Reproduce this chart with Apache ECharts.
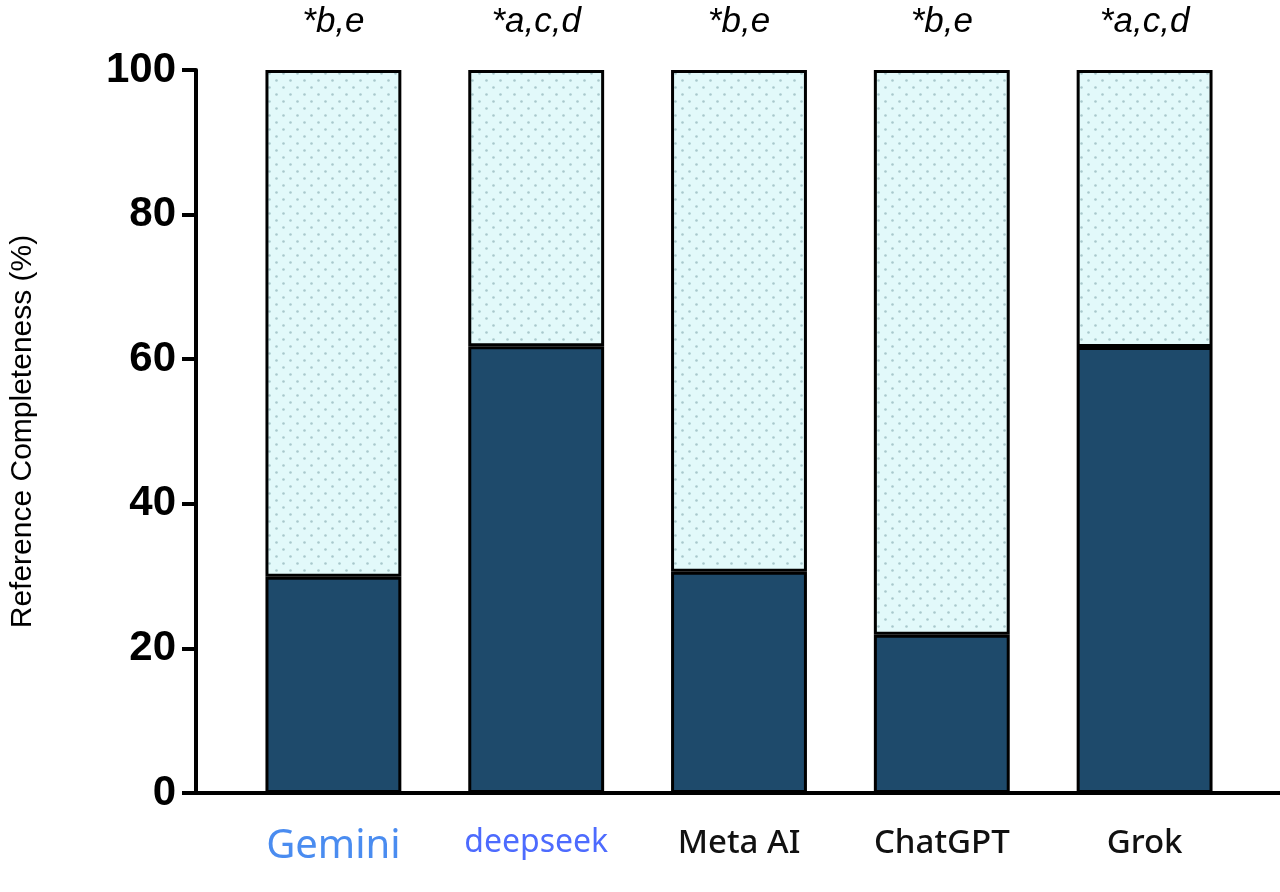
<!DOCTYPE html>
<html><head><meta charset="utf-8">
<script src="https://cdn.jsdelivr.net/npm/echarts@6/dist/echarts.min.js"></script>
<style>body{margin:0;background:#fff}#chartDiv{width:1280px;height:892px}</style>
</head><body><div id="chartDiv"></div>
<script>
var categories = ['Gemini', 'deepseek', 'Meta AI', 'ChatGPT', 'Grok'];
var completeValues = [29.9, 61.8, 30.6, 21.9, 61.7];
var sigLabels = ['*b,e', '*a,c,d', '*b,e', '*b,e', '*a,c,d'];
var yTicks = [0, 20, 40, 60, 80, 100];

var restValues = [];
for (var i = 0; i < completeValues.length; i++) restValues[i] = 100 - completeValues[i];

// dotted light fill
var cv = document.createElement('canvas');
cv.width = 14; cv.height = 14;
var ctx = cv.getContext('2d');
ctx.fillStyle = '#e2f9fa'; ctx.fillRect(0, 0, 14, 14);
ctx.fillStyle = '#a9c8cc';
ctx.beginPath(); ctx.arc(3.5, 3.5, 1.3, 0, Math.PI * 2); ctx.fill();
ctx.beginPath(); ctx.arc(10.5, 10.5, 1.3, 0, Math.PI * 2); ctx.fill();

option = {
  animation: false,
  grid: {left: 226, right: 34, top: 70, bottom: 99},
  // x axis line runs from the y axis to the right edge
  graphic: [{type: 'line', shape: {x1: 188, y1: 793, x2: 1280, y2: 793}, style: {stroke: '#000', lineWidth: 4}}],
  xAxis: {
    type: 'category',
    data: categories,
    axisLine: {show: false},
    axisTick: {alignWithLabel: true, length: 22, lineStyle: {color: '#000', width: 4}},
    axisLabel: {
      margin: 34,
      formatter: function (v) { return '{' + (v == 'Meta AI' || v == 'ChatGPT' || v == 'Grok' ? 'k' : v) + '|' + v + '}'; },
      rich: {
        Gemini: {fontSize: 40, color: '#4a8cf0', fontFamily: 'Noto Sans'},
        deepseek: {fontSize: 32, color: '#4d6bfe', fontFamily: 'Noto Sans'},
        k: {fontSize: 33, color: '#111', fontFamily: 'Noto Sans', fontWeight: 500}
      }
    }
  },
  yAxis: {
    type: 'value', min: 0, max: 100, interval: 20, offset: 36,
    name: 'Reference Completeness (%)',
    nameLocation: 'middle', nameGap: 158, nameRotate: 90,
    nameTextStyle: {fontSize: 30, color: '#000', fontFamily: 'Liberation Sans'},
    axisLine: {show: true, lineStyle: {color: '#000', width: 4}},
    axisTick: {show: true, length: 14, lineStyle: {color: '#000', width: 4}},
    axisLabel: {fontSize: 42, fontWeight: 'bold', color: '#000', margin: 20, fontFamily: 'Liberation Sans'},
    splitLine: {show: false}
  },
  series: [
    {
      type: 'bar', stack: 'a', data: completeValues, barWidth: '67%',
      itemStyle: {color: '#1e4a6b', borderColor: '#000', borderWidth: 3}
    },
    {
      type: 'bar', stack: 'a', data: restValues, barWidth: '67%',
      itemStyle: {color: {image: cv, repeat: 'repeat'}, borderColor: '#000', borderWidth: 3},
      label: {
        show: true, position: 'top', distance: 30,
        formatter: function (p) { return sigLabels[p.dataIndex]; },
        fontSize: 35, fontStyle: 'italic', color: '#000', fontFamily: 'Liberation Sans'
      }
    }
  ]
};
var myCharts1 = echarts.init(document.getElementById('chartDiv'));
myCharts1.setOption(option, true);
</script></body></html>
